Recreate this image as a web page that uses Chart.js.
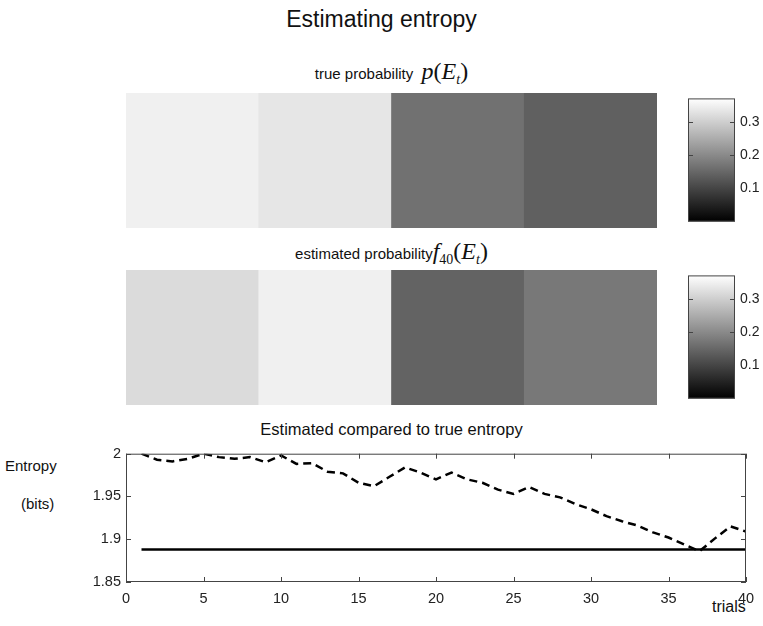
<!DOCTYPE html>
<html>
<head>
<meta charset="utf-8">
<script src="https://cdn.jsdelivr.net/npm/chart.js@4.4.1/dist/chart.umd.min.js"></script>
<style>
  body { margin: 0; background: #fff; font-family: "Liberation Sans", Arial, sans-serif; color: #111; }
  #page { position: relative; width: 763px; height: 626px; overflow: hidden; }
  canvas { position: absolute; }
  .txt { position: absolute; white-space: nowrap; }
  .math { font-family: "Liberation Serif", "Times New Roman", serif; font-style: italic; font-size: 24px; }
  .up { font-style: normal; }
  sub { font-size: 14px; vertical-align: -5px; }
</style>
</head>
<body>
<div id="page">
  <div class="txt" style="left:0; width:763px; top:6px; text-align:center; font-size:23px;">Estimating entropy</div>
  <div class="txt" style="left:126px; width:531px; top:58px; text-align:center; font-size:15px;">true probability&nbsp; <span class="math">p<span class="up">(</span>E<sub>t</sub><span class="up">)</span></span></div>
  <div class="txt" style="left:126px; width:531px; top:238px; text-align:center; font-size:15px;">estimated probability<span class="math">f<sub class="up">40</sub><span class="up">(</span>E<sub>t</sub><span class="up">)</span></span></div>
  <div class="txt" style="left:126px; width:531px; top:420px; text-align:center; font-size:16.5px;">Estimated compared to true entropy</div>
  <div class="txt" style="left:5px; top:457px; font-size:15px;">Entropy</div>
  <div class="txt" style="left:21px; top:495px; font-size:15px;">(bits)</div>
  <div class="txt" style="left:712px; top:598px; font-size:16px;">trials</div>

  <canvas id="heatTrue" width="531" height="135" style="left:126px; top:93px;"></canvas>
  <canvas id="heatEst" width="531" height="135" style="left:126px; top:270px;"></canvas>
  <canvas id="barTrue" width="75" height="150" style="left:688px; top:85px;"></canvas>
  <canvas id="barEst" width="75" height="150" style="left:688px; top:262px;"></canvas>
  <canvas id="entropyChart" width="703" height="166" style="left:60px; top:440px;"></canvas>
</div>

<script>
const cells = ['1', '2', '3', '4'];
const trueProb = [0.35, 0.335, 0.165, 0.14];
const estProb = [0.32, 0.35, 0.145, 0.175];
const colorMax = 0.372;
const colorTicks = [0.1, 0.2, 0.3];

const trials = [1, 2, 3, 4, 5, 6, 7, 8, 9, 10, 11, 12, 13, 14, 15, 16, 17, 18, 19, 20,
                21, 22, 23, 24, 25, 26, 27, 28, 29, 30, 31, 32, 33, 34, 35, 36, 37, 38, 39, 40];
const estEntropy = [2.000, 1.993, 1.991, 1.994, 2.000, 1.996, 1.994, 1.996, 1.990, 1.998,
                    1.988, 1.989, 1.979, 1.977, 1.966, 1.962, 1.973, 1.984, 1.978, 1.970,
                    1.978, 1.970, 1.966, 1.958, 1.953, 1.961, 1.953, 1.949, 1.941, 1.935,
                    1.927, 1.921, 1.916, 1.908, 1.902, 1.894, 1.886, 1.901, 1.915, 1.909];
const trueEntropy = 1.888;
const xTicks = [0, 5, 10, 15, 20, 25, 30, 35, 40];
const yTicks = [1.85, 1.9, 1.95, 2];

Chart.defaults.font.family = '"Liberation Sans", Arial, sans-serif';
Chart.defaults.color = '#111';

function grayOf(v) {
    const g = Math.round(Math.max(0, Math.min(1, v / colorMax)) * 255);
    return `rgb(${g},${g},${g})`;
}

// box round the plot area, with matlab style ticks pointing inwards
const boxPlugin = {
    id: 'boxPlugin',
    afterDraw(chart) {
        const { ctx, chartArea: a } = chart;
        ctx.save();
        ctx.strokeStyle = '#444';
        ctx.lineWidth = 1;
        ctx.strokeRect(a.left + 0.5, a.top + 0.5, a.right - a.left - 1, a.bottom - a.top - 1);
        const len = 5;
        ctx.beginPath();
        const xs = chart.scales.x;
        if (xs && xs.options.display) {
            xs.ticks.forEach(t => {
                const px = Math.round(xs.getPixelForValue(t.value)) + 0.5;
                ctx.moveTo(px, a.bottom); ctx.lineTo(px, a.bottom - len);
                ctx.moveTo(px, a.top); ctx.lineTo(px, a.top + len);
            });
        }
        const ys = chart.scales.y;
        if (ys && ys.options.display) {
            ys.ticks.forEach(t => {
                const py = Math.round(ys.getPixelForValue(t.value)) + 0.5;
                ctx.moveTo(a.left, py); ctx.lineTo(a.left + len, py);
                ctx.moveTo(a.right, py); ctx.lineTo(a.right - len, py);
            });
        }
        ctx.stroke();
        ctx.restore();
    }
};

function heatmap(id, probs) {
    new Chart(document.getElementById(id), {
        type: 'bar',
        data: {
            labels: cells,
            datasets: [{
                data: probs.map(() => 1),
                backgroundColor: probs.map(grayOf),
                barPercentage: 1,
                categoryPercentage: 1,
                borderWidth: 0
            }]
        },
        options: {
            responsive: false,
            animation: false,
            layout: { padding: 0 },
            plugins: { legend: { display: false }, tooltip: { enabled: false } },
            scales: {
                x: { display: false },
                y: { display: false, min: 0, max: 1 }
            }
        }
    });
}

function colorbar(id) {
    new Chart(document.getElementById(id), {
        type: 'bar',
        data: {
            labels: [''],
            datasets: [{
                data: [[0, colorMax]],
                backgroundColor: (c) => {
                    const chart = c.chart;
                    const ys = chart.scales.y;
                    if (!chart.chartArea || !ys) return '#888';
                    const g = chart.ctx.createLinearGradient(0, ys.getPixelForValue(0), 0, ys.getPixelForValue(colorMax));
                    g.addColorStop(0, '#000');
                    g.addColorStop(1, '#fff');
                    return g;
                },
                barPercentage: 1,
                categoryPercentage: 1,
                borderWidth: 0,
                borderSkipped: false
            }]
        },
        options: {
            responsive: false,
            animation: false,
            layout: { padding: { top: 8, bottom: 7, left: 0, right: 0 } },
            plugins: { legend: { display: false }, tooltip: { enabled: false } },
            scales: {
                x: { display: false },
                y: {
                    position: 'right',
                    min: 0,
                    max: colorMax,
                    afterBuildTicks: (s) => { s.ticks = colorTicks.map(v => ({ value: v })); },
                    afterFit: (s) => { s.width = 28; },
                    grid: { display: false, drawTicks: false },
                    border: { display: false },
                    ticks: { padding: 5, font: { size: 14 }, color: '#222', callback: v => v.toString() }
                }
            }
        },
        plugins: [boxPlugin]
    });
}

heatmap('heatTrue', trueProb);
heatmap('heatEst', estProb);
colorbar('barTrue');
colorbar('barEst');

new Chart(document.getElementById('entropyChart'), {
    type: 'line',
    data: {
        datasets: [{
            label: 'estimated',
            data: trials.map((t, i) => ({ x: t, y: estEntropy[i] })),
            borderColor: '#000',
            borderWidth: 2.5,
            borderDash: [8, 5],
            pointRadius: 0,
            fill: false,
            tension: 0
        }, {
            label: 'true',
            data: [{ x: trials[0], y: trueEntropy }, { x: trials[trials.length - 1], y: trueEntropy }],
            borderColor: '#000',
            borderWidth: 2.5,
            pointRadius: 0,
            fill: false
        }]
    },
    options: {
        responsive: false,
        animation: false,
        layout: { padding: { top: 8, right: 17, left: 0, bottom: 0 } },
        plugins: { legend: { display: false }, tooltip: { enabled: false } },
        scales: {
            x: {
                type: 'linear',
                min: 0,
                max: 40,
                afterBuildTicks: (s) => { s.ticks = xTicks.map(v => ({ value: v })); },
                afterFit: (s) => { s.height = 24; },
                grid: { display: false, drawTicks: false },
                border: { display: false },
                ticks: { padding: 8, font: { size: 14.5 }, color: '#222', maxRotation: 0 }
            },
            y: {
                min: 1.85,
                max: 2,
                afterBuildTicks: (s) => { s.ticks = yTicks.map(v => ({ value: v })); },
                afterFit: (s) => { s.width = 66; },
                grid: { display: false, drawTicks: false },
                border: { display: false },
                ticks: { padding: 5, font: { size: 14.5 }, color: '#222', callback: v => String(+v.toFixed(2)) }
            }
        }
    },
    plugins: [boxPlugin]
});
</script>
</body>
</html>
